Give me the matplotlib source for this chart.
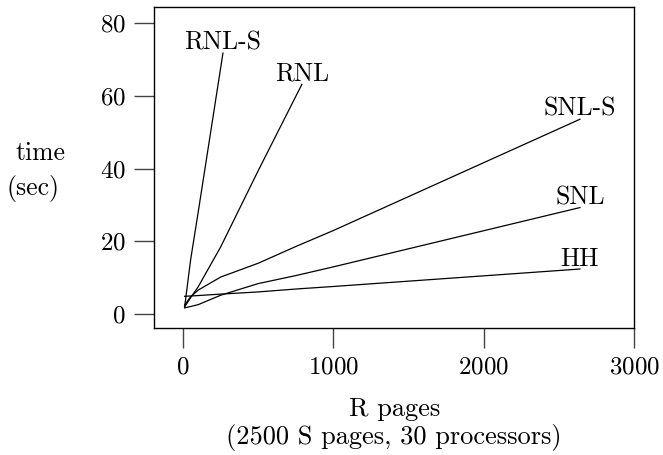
import numpy as np
import matplotlib
matplotlib.use("Agg")
import matplotlib.pyplot as plt

plt.rcParams['font.family'] = 'serif'
plt.rcParams['font.serif'] = ['cmr10']
plt.rcParams['axes.formatter.use_mathtext'] = True
plt.rcParams['font.size'] = 18

# R pages / time (sec)
rnls_x = [10, 50, 100, 265]
rnls_y = [2.0, 15.0, 28.0, 71.8]

rnl_x = [10, 50, 100, 250, 500, 790]
rnl_y = [2.0, 4.5, 7.5, 18.5, 39.5, 63.2]

snls_x = [10, 50, 100, 250, 500, 750, 1000, 2640]
snls_y = [2.5, 4.8, 6.6, 10.2, 14.0, 18.6, 23.0, 53.6]

snl_x = [10, 50, 100, 250, 500, 750, 1000, 2640]
snl_y = [1.7, 2.1, 2.6, 5.2, 8.4, 10.6, 13.0, 29.3]

hh_x = [10, 100, 250, 500, 750, 1000, 2640]
hh_y = [4.9, 5.1, 5.5, 6.1, 6.9, 7.6, 12.4]

series = [
  ("RNL-S", rnls_x, rnls_y),
  ("RNL", rnl_x, rnl_y),
  ("SNL-S", snls_x, snls_y),
  ("SNL", snl_x, snl_y),
  ("HH", hh_x, hh_y),
]

xticks = [0, 1000, 2000, 3000]
yticks = [0, 20, 40, 60, 80]

fig = plt.figure(figsize=(6.63, 4.55), dpi=100)
ax = fig.add_axes([0.2327, 0.2785, 0.9563 - 0.2327, 0.984 - 0.2785])

for nome, xs, ys in series:
  ax.plot(xs, ys, c='black', lw=0.9)
  ax.annotate(nome, (xs[-1], ys[-1]), xytext=(0, 2.5), textcoords='offset points',
              ha='center', va='baseline', fontsize=18.5)

ax.set_xlim(-192, 3000)
ax.set_ylim(-3.9, 84.4)
ax.set_xticks(xticks)
ax.set_yticks(yticks)
ax.tick_params(direction='out', length=14.4, width=1.0, color='#444444', pad=6)
for s in ax.spines.values():
  s.set_linewidth(1.0)

ax.set_xlabel("R pages\n(2500 S pages, 30 processors)", labelpad=13,
              linespacing=1.15, fontsize=19)
fig.text(41 / 663, 1 - 153 / 455, "time", ha='center', va='center', fontsize=18.5)
fig.text(33 / 663, 1 - 188 / 455, "(sec)", ha='center', va='center', fontsize=18.5)

plt.savefig("out.png", dpi=100)
